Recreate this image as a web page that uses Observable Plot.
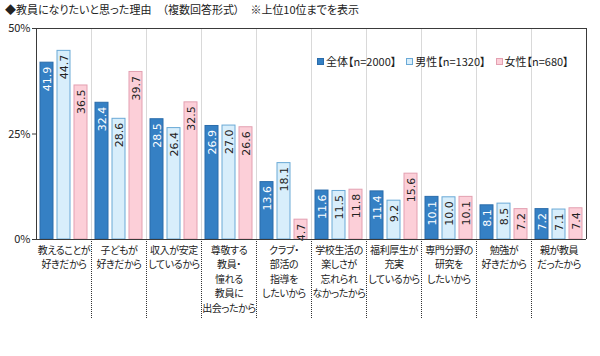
<!DOCTYPE html>
<html>
<head>
<meta charset="utf-8">
<script src="https://cdn.jsdelivr.net/npm/d3@7"></script>
<script src="https://cdn.jsdelivr.net/npm/@observablehq/plot@0.6"></script>
<style>
  body { margin: 0; background: #fff; font-family: "Noto Sans CJK JP", sans-serif; }
  #wrap { position: relative; width: 600px; height: 356px; overflow: hidden; }
  #title { height: 18px; line-height: 18px; font-size: 11px; padding-left: 5px; color: #222; font-feature-settings: "palt"; white-space: pre; }
  #legend { position: absolute; left: 317px; top: 53px; font-size: 11px; color: #222; display: flex; gap: 10px; font-feature-settings: "palt"; white-space: nowrap; }
  #legend span.item { display: inline-flex; align-items: center; }
  #legend i { display: inline-block; width: 7px; height: 7px; margin-right: 2px; box-sizing: border-box; }
  svg text { font-feature-settings: "palt"; }
  g[aria-label="fx-axis tick label"] text { letter-spacing: -0.4px; }
</style>
</head>
<body>
<div id="wrap">
  <div id="title">◆教員になりたいと思った理由　（複数回答形式）　※上位10位までを表示</div>
  <div id="chart"></div>
  <div id="legend"></div>
</div>
<script>
const categories = [
  "教えることが\n好きだから",
  "子どもが\n好きだから",
  "収入が安定\nしているから",
  "尊敬する\n教員・\n憧れる\n教員に\n出会ったから",
  "クラブ・\n部活の\n指導を\nしたいから",
  "学校生活の\n楽しさが\n忘れられ\nなかったから",
  "福利厚生が\n充実\nしているから",
  "専門分野の\n研究を\nしたいから",
  "勉強が\n好きだから",
  "親が教員\nだったから"
];
const series = ["全体【n=2000】", "男性【n=1320】", "女性【n=680】"];
const totalValues  = [41.9, 32.4, 28.5, 26.9, 13.6, 11.6, 11.4, 10.1, 8.1, 7.2];
const maleValues   = [44.7, 28.6, 26.4, 27.0, 18.1, 11.5, 9.2, 10.0, 8.5, 7.1];
const femaleValues = [36.5, 39.7, 32.5, 26.6, 4.7, 11.8, 15.6, 10.1, 7.2, 7.4];
const yTicks = [0, 25, 50];

const fills   = ["#3580c4", "#d8eefb", "#fccfd8"];
const strokes = ["#2a6cab", "#6aa9d6", "#e3a0b1"];
const labelColors = ["#ffffff", "#222222", "#222222"];

const seriesValues = [totalValues, maleValues, femaleValues];
const table = [];
categories.forEach((c, i) => {
  series.forEach((s, j) => table.push({cat: c, series: s, si: j, value: seriesValues[j][i]}));
});

const W = 600, H = 338, mL = 36, mR = 14, mT = 10, mB = 117;
const bw = (W - mL - mR) / categories.length;
const plotH = H - mT - mB;
const frameColor = "#3a3a3a";

const chart = Plot.plot({
  width: W, height: H,
  marginTop: mT, marginLeft: mL, marginRight: mR, marginBottom: mB,
  style: {fontFamily: "'Noto Sans CJK JP', sans-serif", background: "#fff", color: "#222"},
  fx: {domain: categories, padding: 0, label: null},
  x: {domain: series, paddingInner: 0.26, paddingOuter: 0.2, axis: null},
  y: {domain: [0, 50], label: null},
  marks: [
    Plot.ruleX(categories, {fx: d => d, x: null, dx: -bw / 2, stroke: "#d9d9d9"}),
    Plot.ruleX(categories.slice(1), {fx: d => d, x: null, dx: -bw / 2, insetTop: plotH, insetBottom: -80, stroke: "#333", strokeDasharray: "1,1"}),
    Plot.barY(table, {
      fx: "cat", x: "series", y: "value",
      fill: d => fills[d.si], stroke: d => strokes[d.si], strokeWidth: 1
    }),
    Plot.text(table, {
      fx: "cat", x: "series", y: "value",
      text: d => d.value.toFixed(1),
      rotate: -90, textAnchor: "end", dy: 4,
      fill: d => labelColors[d.si],
      fontFamily: "'DejaVu Sans', sans-serif", fontSize: 11
    }),
    Plot.ruleY([0, 50], {stroke: frameColor}),
    Plot.ruleX([categories[0]], {fx: d => d, x: null, dx: -bw / 2, stroke: frameColor}),
    Plot.ruleX([categories[categories.length - 1]], {fx: d => d, x: null, dx: bw / 2, stroke: frameColor}),
    Plot.axisY({ticks: yTicks, tickFormat: d => d + "%", tickSize: 4, tickPadding: 2, fontSize: 11, label: null, stroke: frameColor}),
    Plot.axisFx({anchor: "bottom", tickSize: 0, tickPadding: 4, fontSize: 10, lineHeight: 1.45, label: null, tickFormat: d => d})
  ]
});
document.getElementById("chart").appendChild(chart);

const legend = document.getElementById("legend");
series.forEach((s, j) => {
  const item = document.createElement("span");
  item.className = "item";
  const sw = document.createElement("i");
  sw.style.background = fills[j];
  sw.style.border = "1px solid " + strokes[j];
  item.appendChild(sw);
  item.appendChild(document.createTextNode(s));
  legend.appendChild(item);
});
</script>
</body>
</html>
